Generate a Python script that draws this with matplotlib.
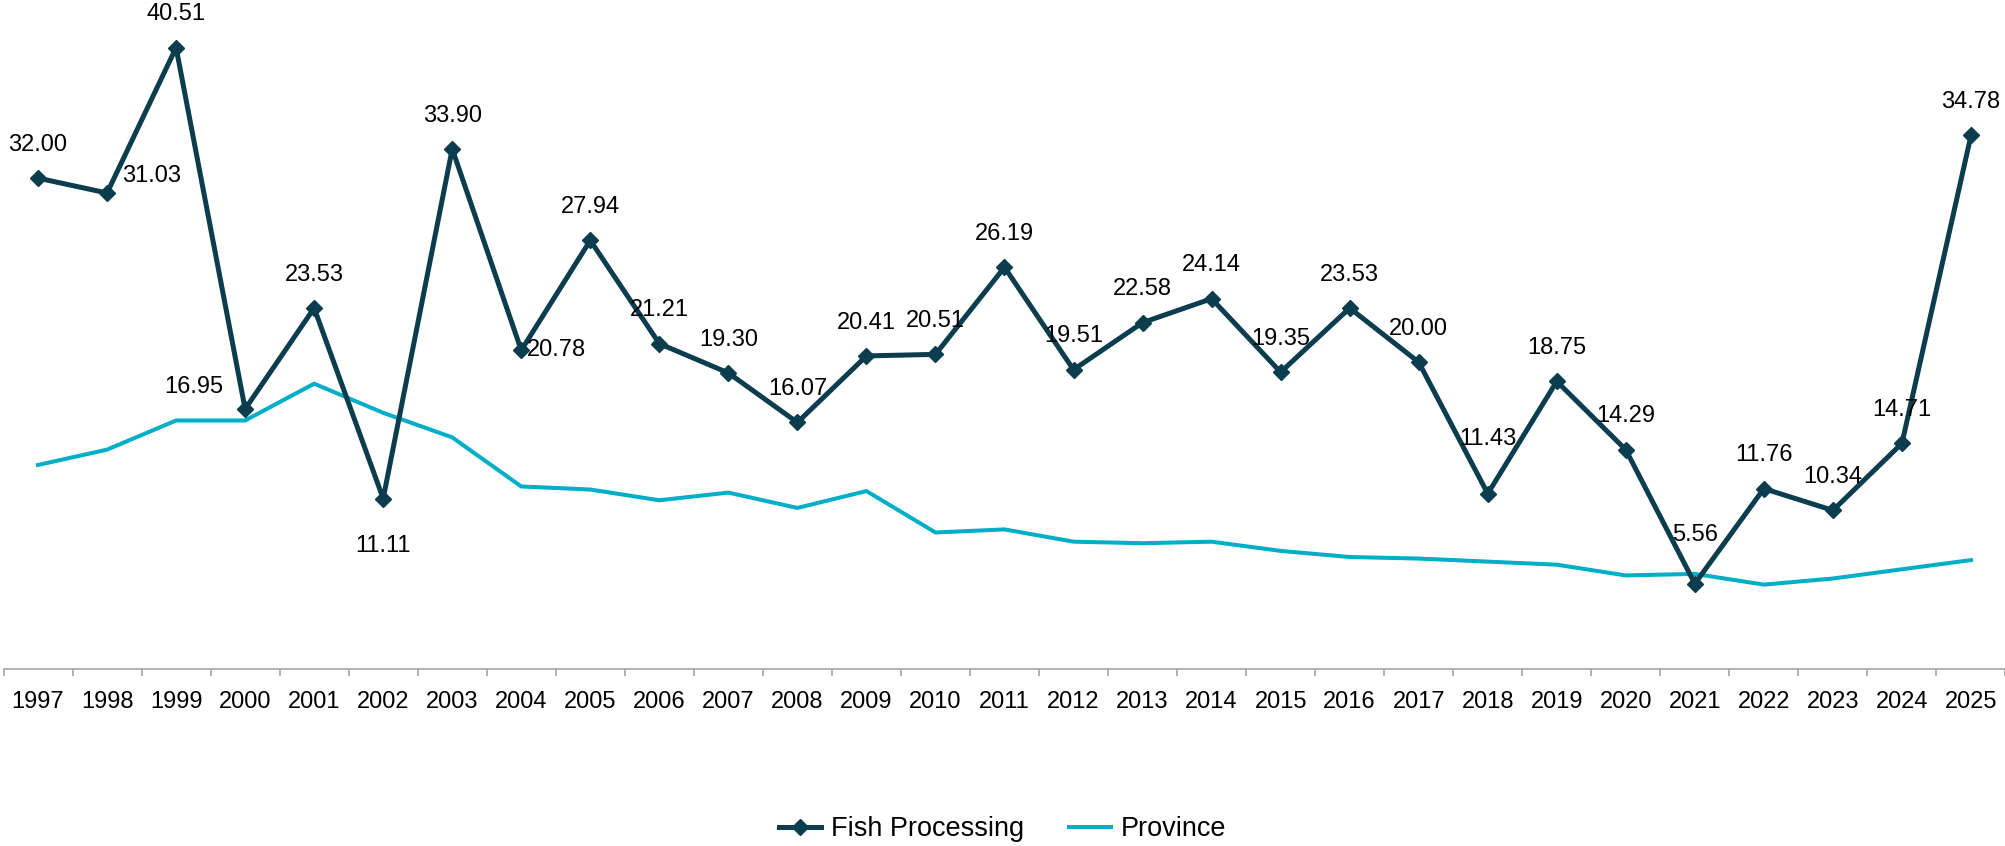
import matplotlib
matplotlib.use("Agg")
import matplotlib.pyplot as plt
import numpy as np

plt.rcParams['font.family'] = ['Liberation Sans', 'DejaVu Sans']

years = [str(y) for y in range(1997, 2026)]
fish = [32.00, 31.03, 40.51, 16.95, 23.53, 11.11, 33.90, 20.78, 27.94, 21.21,
        19.30, 16.07, 20.41, 20.51, 26.19, 19.51, 22.58, 24.14, 19.35, 23.53,
        20.00, 11.43, 18.75, 14.29, 5.56, 11.76, 10.34, 14.71, 34.78]
province = [13.3, 14.3, 16.2, 16.2, 18.6, 16.7, 15.1, 11.9, 11.7, 11.0,
            11.5, 10.5, 11.6, 8.9, 9.1, 8.3, 8.2, 8.3, 7.7, 7.3,
            7.2, 7.0, 6.8, 6.1, 6.2, 5.5, 5.9, 6.5, 7.1]

# label offsets (points) where the label is not simply above the marker
label_offsets = {1: (32, 12), 3: (-37, 16), 5: (0, -34), 7: (25, 0),
                 21: (0, 39), 24: (0, 35)}

fish_color = '#0c3d4e'
prov_color = '#00aec8'

fig = plt.figure(figsize=(20.06, 8.46), dpi=100)
ax = fig.add_axes([3.5 / 2006, 1 - 669 / 846, 2002 / 2006, 669 / 846])

x = np.arange(len(years))
ax.plot(x, fish, color=fish_color, lw=3.6, marker='D', ms=8.5,
        mec=fish_color, mfc=fish_color, label='Fish Processing', zorder=3)
ax.plot(x, province, color=prov_color, lw=2.9, label='Province', zorder=2)

for i, v in enumerate(fish):
    dx, dy = label_offsets.get(i, (0, 24))
    ax.annotate(f'{v:.2f}', (x[i], v), xytext=(dx, dy), textcoords='offset points',
                ha='center', va='center', fontsize=17, color='black',
                annotation_clip=False, zorder=4)

ax.set_xlim(-0.5, len(years) - 0.5)
ax.set_ylim(0, 669 / 15.34)
ax.set_xticks(x)
ax.set_xticklabels(years, fontsize=17)
ax.set_xticks(np.arange(-0.5, len(years)), minor=True)
ax.tick_params(axis='x', which='major', length=0, pad=16)
ax.tick_params(axis='x', which='minor', length=5, width=1.2, color='#a6a6a6')
ax.set_yticks([])
for s in ['top', 'left', 'right']:
    ax.spines[s].set_visible(False)
ax.spines['bottom'].set_color('#a6a6a6')
ax.spines['bottom'].set_linewidth(1.2)
ax.patch.set_alpha(0)

fig.legend(loc='center', bbox_to_anchor=(0.5, 1 - 829 / 846), ncol=2, frameon=False,
           fontsize=19.5, handlelength=1.55, handletextpad=0.37, columnspacing=1.65)

fig.savefig('out.png', dpi=100)
